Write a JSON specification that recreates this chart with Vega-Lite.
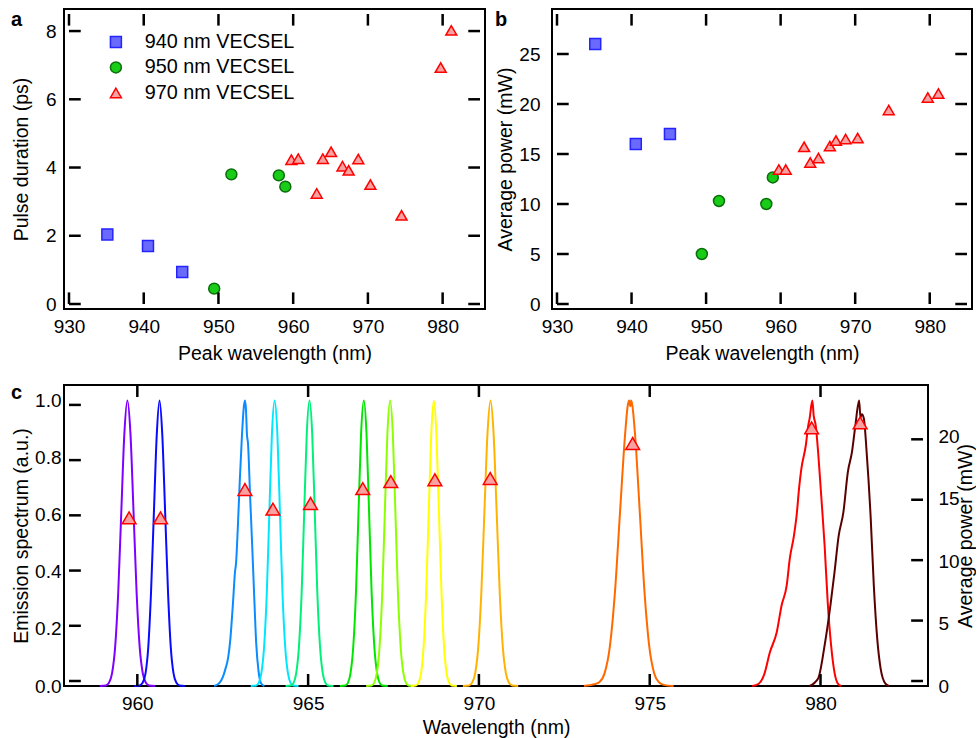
{
 "$schema": "https://vega.github.io/schema/vega-lite/v6.json",
 "background": "white",
 "padding": {"left": 10, "top": 8, "right": 0, "bottom": 0},
 "config": {
  "font": "Liberation Sans",
  "view": {"stroke": "black", "strokeWidth": 2},
  "axis": {"domain": false, "ticks": false, "grid": false, "labelFlush": false, "labelPadding": 8,
   "labelFont": "Liberation Sans", "labelFontSize": 19, "labelColor": "black",
   "titleFont": "Liberation Sans", "titleFontSize": 19.5, "titleFontWeight": "normal", "titleColor": "black", "titlePadding": 8},
  "title": {"fontSize": 20, "fontWeight": "bold", "anchor": "start", "frame": "bounds", "color": "black", "font": "Liberation Sans"}
 },
 "datasets": {
  "pulses": [
   {"laser": "940 nm VECSEL", "wl": 935.13, "tau": 2.04, "p": 26.0},
   {"laser": "940 nm VECSEL", "wl": 940.57, "tau": 1.70, "p": 16.0},
   {"laser": "940 nm VECSEL", "wl": 945.15, "tau": 0.94, "p": 17.0},
   {"laser": "950 nm VECSEL", "wl": 949.43, "tau": 0.45, "p": 5.0},
   {"laser": "950 nm VECSEL", "wl": 951.73, "tau": 3.80, "p": 10.3},
   {"laser": "950 nm VECSEL", "wl": 958.08, "tau": 3.77, "p": 10.0},
   {"laser": "950 nm VECSEL", "wl": 958.95, "tau": 3.44, "p": 12.66},
   {"laser": "970 nm VECSEL", "wl": 959.76, "tau": 4.23, "p": 13.45},
   {"laser": "970 nm VECSEL", "wl": 960.68, "tau": 4.26, "p": 13.45},
   {"laser": "970 nm VECSEL", "wl": 963.15, "tau": 3.24, "p": 15.72},
   {"laser": "970 nm VECSEL", "wl": 963.97, "tau": 4.26, "p": 14.15},
   {"laser": "970 nm VECSEL", "wl": 965.07, "tau": 4.46, "p": 14.6},
   {"laser": "970 nm VECSEL", "wl": 966.60, "tau": 4.04, "p": 15.79},
   {"laser": "970 nm VECSEL", "wl": 967.42, "tau": 3.92, "p": 16.35},
   {"laser": "970 nm VECSEL", "wl": 968.71, "tau": 4.25, "p": 16.5},
   {"laser": "970 nm VECSEL", "wl": 970.33, "tau": 3.50, "p": 16.6},
   {"laser": "970 nm VECSEL", "wl": 974.50, "tau": 2.60, "p": 19.4},
   {"laser": "970 nm VECSEL", "wl": 979.74, "tau": 6.93, "p": 20.65},
   {"laser": "970 nm VECSEL", "wl": 981.16, "tau": 8.02, "p": 21.05}
  ],
  "xticksAB": [{"wl": 930}, {"wl": 940}, {"wl": 950}, {"wl": 960}, {"wl": 970}, {"wl": 980}],
  "yticksA": [{"tau": 0}, {"tau": 2}, {"tau": 4}, {"tau": 6}, {"tau": 8}],
  "yticksB": [{"p": 0}, {"p": 5}, {"p": 10}, {"p": 15}, {"p": 20}, {"p": 25}],
  "xticksC": [{"wl": 960}, {"wl": 965}, {"wl": 970}, {"wl": 975}, {"wl": 980}],
  "yticksCl": [{"v": 0}, {"v": 0.2}, {"v": 0.4}, {"v": 0.6}, {"v": 0.8}, {"v": 1.0}],
  "yticksCr": [{"p": 0}, {"p": 5}, {"p": 10}, {"p": 15}, {"p": 20}],
  "spectra": [
   {"id": "s01", "wl": 958.90, "v": 0}, {"id": "s01", "wl": 959.08, "v": 0.002}, {"id": "s01", "wl": 959.17, "v": 0.011}, {"id": "s01", "wl": 959.26, "v": 0.044}, {"id": "s01", "wl": 959.35, "v": 0.135}, {"id": "s01", "wl": 959.44, "v": 0.325}, {"id": "s01", "wl": 959.53, "v": 0.607}, {"id": "s01", "wl": 959.62, "v": 0.882}, {"id": "s01", "wl": 959.71, "v": 1.0}, {"id": "s01", "wl": 959.80, "v": 0.882}, {"id": "s01", "wl": 959.89, "v": 0.607}, {"id": "s01", "wl": 959.98, "v": 0.325}, {"id": "s01", "wl": 960.07, "v": 0.135}, {"id": "s01", "wl": 960.16, "v": 0.044}, {"id": "s01", "wl": 960.25, "v": 0.011}, {"id": "s01", "wl": 960.34, "v": 0.002}, {"id": "s01", "wl": 960.52, "v": 0},
   {"id": "s02", "wl": 959.91, "v": 0}, {"id": "s02", "wl": 960.07, "v": 0.002}, {"id": "s02", "wl": 960.155, "v": 0.011}, {"id": "s02", "wl": 960.24, "v": 0.044}, {"id": "s02", "wl": 960.32, "v": 0.135}, {"id": "s02", "wl": 960.40, "v": 0.325}, {"id": "s02", "wl": 960.485, "v": 0.607}, {"id": "s02", "wl": 960.57, "v": 0.882}, {"id": "s02", "wl": 960.65, "v": 1.0}, {"id": "s02", "wl": 960.73, "v": 0.882}, {"id": "s02", "wl": 960.815, "v": 0.607}, {"id": "s02", "wl": 960.90, "v": 0.325}, {"id": "s02", "wl": 960.98, "v": 0.135}, {"id": "s02", "wl": 961.06, "v": 0.044}, {"id": "s02", "wl": 961.145, "v": 0.011}, {"id": "s02", "wl": 961.23, "v": 0.002}, {"id": "s02", "wl": 961.39, "v": 0},
   {"id": "s03", "wl": 962.25, "v": 0}, {"id": "s03", "wl": 962.40, "v": 0.01}, {"id": "s03", "wl": 962.50, "v": 0.03}, {"id": "s03", "wl": 962.58, "v": 0.06}, {"id": "s03", "wl": 962.66, "v": 0.10}, {"id": "s03", "wl": 962.72, "v": 0.16}, {"id": "s03", "wl": 962.80, "v": 0.29}, {"id": "s03", "wl": 962.86, "v": 0.40}, {"id": "s03", "wl": 962.89, "v": 0.43}, {"id": "s03", "wl": 962.94, "v": 0.55}, {"id": "s03", "wl": 963.00, "v": 0.72}, {"id": "s03", "wl": 963.06, "v": 0.87}, {"id": "s03", "wl": 963.12, "v": 0.98}, {"id": "s03", "wl": 963.15, "v": 1.0}, {"id": "s03", "wl": 963.18, "v": 0.97}, {"id": "s03", "wl": 963.21, "v": 0.88}, {"id": "s03", "wl": 963.24, "v": 0.85}, {"id": "s03", "wl": 963.30, "v": 0.67}, {"id": "s03", "wl": 963.36, "v": 0.50}, {"id": "s03", "wl": 963.42, "v": 0.32}, {"id": "s03", "wl": 963.48, "v": 0.15}, {"id": "s03", "wl": 963.55, "v": 0.05}, {"id": "s03", "wl": 963.62, "v": 0.01}, {"id": "s03", "wl": 963.72, "v": 0},
   {"id": "s04", "wl": 963.32, "v": 0}, {"id": "s04", "wl": 963.48, "v": 0.002}, {"id": "s04", "wl": 963.555, "v": 0.011}, {"id": "s04", "wl": 963.63, "v": 0.044}, {"id": "s04", "wl": 963.71, "v": 0.135}, {"id": "s04", "wl": 963.79, "v": 0.325}, {"id": "s04", "wl": 963.865, "v": 0.607}, {"id": "s04", "wl": 963.94, "v": 0.882}, {"id": "s04", "wl": 964.02, "v": 1.0}, {"id": "s04", "wl": 964.10, "v": 0.882}, {"id": "s04", "wl": 964.175, "v": 0.607}, {"id": "s04", "wl": 964.25, "v": 0.325}, {"id": "s04", "wl": 964.33, "v": 0.135}, {"id": "s04", "wl": 964.41, "v": 0.044}, {"id": "s04", "wl": 964.485, "v": 0.011}, {"id": "s04", "wl": 964.56, "v": 0.002}, {"id": "s04", "wl": 964.72, "v": 0},
   {"id": "s05", "wl": 964.34, "v": 0}, {"id": "s05", "wl": 964.50, "v": 0.002}, {"id": "s05", "wl": 964.575, "v": 0.011}, {"id": "s05", "wl": 964.65, "v": 0.044}, {"id": "s05", "wl": 964.73, "v": 0.135}, {"id": "s05", "wl": 964.81, "v": 0.325}, {"id": "s05", "wl": 964.885, "v": 0.607}, {"id": "s05", "wl": 964.96, "v": 0.882}, {"id": "s05", "wl": 965.04, "v": 1.0}, {"id": "s05", "wl": 965.12, "v": 0.882}, {"id": "s05", "wl": 965.195, "v": 0.607}, {"id": "s05", "wl": 965.27, "v": 0.325}, {"id": "s05", "wl": 965.35, "v": 0.135}, {"id": "s05", "wl": 965.43, "v": 0.044}, {"id": "s05", "wl": 965.505, "v": 0.011}, {"id": "s05", "wl": 965.58, "v": 0.002}, {"id": "s05", "wl": 965.74, "v": 0},
   {"id": "s06", "wl": 965.93, "v": 0}, {"id": "s06", "wl": 966.09, "v": 0.002}, {"id": "s06", "wl": 966.165, "v": 0.011}, {"id": "s06", "wl": 966.24, "v": 0.044}, {"id": "s06", "wl": 966.32, "v": 0.135}, {"id": "s06", "wl": 966.40, "v": 0.325}, {"id": "s06", "wl": 966.475, "v": 0.607}, {"id": "s06", "wl": 966.55, "v": 0.882}, {"id": "s06", "wl": 966.63, "v": 1.0}, {"id": "s06", "wl": 966.71, "v": 0.882}, {"id": "s06", "wl": 966.785, "v": 0.607}, {"id": "s06", "wl": 966.86, "v": 0.325}, {"id": "s06", "wl": 966.94, "v": 0.135}, {"id": "s06", "wl": 967.02, "v": 0.044}, {"id": "s06", "wl": 967.095, "v": 0.011}, {"id": "s06", "wl": 967.17, "v": 0.002}, {"id": "s06", "wl": 967.33, "v": 0},
   {"id": "s07", "wl": 966.70, "v": 0}, {"id": "s07", "wl": 966.86, "v": 0.002}, {"id": "s07", "wl": 966.935, "v": 0.011}, {"id": "s07", "wl": 967.01, "v": 0.044}, {"id": "s07", "wl": 967.09, "v": 0.135}, {"id": "s07", "wl": 967.17, "v": 0.325}, {"id": "s07", "wl": 967.245, "v": 0.607}, {"id": "s07", "wl": 967.32, "v": 0.882}, {"id": "s07", "wl": 967.40, "v": 1.0}, {"id": "s07", "wl": 967.48, "v": 0.882}, {"id": "s07", "wl": 967.555, "v": 0.607}, {"id": "s07", "wl": 967.63, "v": 0.325}, {"id": "s07", "wl": 967.71, "v": 0.135}, {"id": "s07", "wl": 967.79, "v": 0.044}, {"id": "s07", "wl": 967.865, "v": 0.011}, {"id": "s07", "wl": 967.94, "v": 0.002}, {"id": "s07", "wl": 968.10, "v": 0},
   {"id": "s08", "wl": 968.005, "v": 0}, {"id": "s08", "wl": 968.155, "v": 0.002}, {"id": "s08", "wl": 968.23, "v": 0.011}, {"id": "s08", "wl": 968.305, "v": 0.044}, {"id": "s08", "wl": 968.38, "v": 0.135}, {"id": "s08", "wl": 968.455, "v": 0.325}, {"id": "s08", "wl": 968.53, "v": 0.607}, {"id": "s08", "wl": 968.605, "v": 0.882}, {"id": "s08", "wl": 968.68, "v": 1.0}, {"id": "s08", "wl": 968.755, "v": 0.882}, {"id": "s08", "wl": 968.83, "v": 0.607}, {"id": "s08", "wl": 968.905, "v": 0.325}, {"id": "s08", "wl": 968.98, "v": 0.135}, {"id": "s08", "wl": 969.055, "v": 0.044}, {"id": "s08", "wl": 969.13, "v": 0.011}, {"id": "s08", "wl": 969.205, "v": 0.002}, {"id": "s08", "wl": 969.355, "v": 0},
   {"id": "s09", "wl": 969.53, "v": 0}, {"id": "s09", "wl": 969.71, "v": 0.002}, {"id": "s09", "wl": 969.80, "v": 0.011}, {"id": "s09", "wl": 969.89, "v": 0.044}, {"id": "s09", "wl": 969.98, "v": 0.135}, {"id": "s09", "wl": 970.07, "v": 0.325}, {"id": "s09", "wl": 970.16, "v": 0.607}, {"id": "s09", "wl": 970.25, "v": 0.882}, {"id": "s09", "wl": 970.34, "v": 1.0}, {"id": "s09", "wl": 970.43, "v": 0.882}, {"id": "s09", "wl": 970.52, "v": 0.607}, {"id": "s09", "wl": 970.61, "v": 0.325}, {"id": "s09", "wl": 970.70, "v": 0.135}, {"id": "s09", "wl": 970.79, "v": 0.044}, {"id": "s09", "wl": 970.88, "v": 0.011}, {"id": "s09", "wl": 970.97, "v": 0.002}, {"id": "s09", "wl": 971.15, "v": 0},
   {"id": "s10", "wl": 973.08, "v": 0}, {"id": "s10", "wl": 973.23, "v": 0.003}, {"id": "s10", "wl": 973.38, "v": 0.006}, {"id": "s10", "wl": 973.53, "v": 0.014}, {"id": "s10", "wl": 973.68, "v": 0.045}, {"id": "s10", "wl": 973.83, "v": 0.135}, {"id": "s10", "wl": 973.98, "v": 0.325}, {"id": "s10", "wl": 974.13, "v": 0.607}, {"id": "s10", "wl": 974.28, "v": 0.882}, {"id": "s10", "wl": 974.36, "v": 0.985}, {"id": "s10", "wl": 974.40, "v": 1.0}, {"id": "s10", "wl": 974.43, "v": 0.98}, {"id": "s10", "wl": 974.46, "v": 1.0}, {"id": "s10", "wl": 974.50, "v": 0.975}, {"id": "s10", "wl": 974.57, "v": 0.882}, {"id": "s10", "wl": 974.71, "v": 0.607}, {"id": "s10", "wl": 974.85, "v": 0.325}, {"id": "s10", "wl": 974.99, "v": 0.135}, {"id": "s10", "wl": 975.13, "v": 0.045}, {"id": "s10", "wl": 975.27, "v": 0.013}, {"id": "s10", "wl": 975.41, "v": 0.004}, {"id": "s10", "wl": 975.70, "v": 0},
   {"id": "s11", "wl": 978.00, "v": 0}, {"id": "s11", "wl": 978.19, "v": 0.008}, {"id": "s11", "wl": 978.35, "v": 0.04}, {"id": "s11", "wl": 978.52, "v": 0.119}, {"id": "s11", "wl": 978.72, "v": 0.189}, {"id": "s11", "wl": 978.86, "v": 0.282}, {"id": "s11", "wl": 979.01, "v": 0.352}, {"id": "s11", "wl": 979.10, "v": 0.446}, {"id": "s11", "wl": 979.22, "v": 0.525}, {"id": "s11", "wl": 979.30, "v": 0.597}, {"id": "s11", "wl": 979.38, "v": 0.702}, {"id": "s11", "wl": 979.44, "v": 0.761}, {"id": "s11", "wl": 979.57, "v": 0.843}, {"id": "s11", "wl": 979.64, "v": 0.912}, {"id": "s11", "wl": 979.68, "v": 0.936}, {"id": "s11", "wl": 979.76, "v": 1.0}, {"id": "s11", "wl": 979.80, "v": 0.947}, {"id": "s11", "wl": 979.86, "v": 0.912}, {"id": "s11", "wl": 979.93, "v": 0.819}, {"id": "s11", "wl": 980.02, "v": 0.667}, {"id": "s11", "wl": 980.12, "v": 0.492}, {"id": "s11", "wl": 980.21, "v": 0.294}, {"id": "s11", "wl": 980.31, "v": 0.142}, {"id": "s11", "wl": 980.41, "v": 0.047}, {"id": "s11", "wl": 980.50, "v": 0.01}, {"id": "s11", "wl": 980.60, "v": 0},
   {"id": "s12", "wl": 979.68, "v": 0}, {"id": "s12", "wl": 979.93, "v": 0.026}, {"id": "s12", "wl": 980.12, "v": 0.142}, {"id": "s12", "wl": 980.29, "v": 0.282}, {"id": "s12", "wl": 980.41, "v": 0.399}, {"id": "s12", "wl": 980.53, "v": 0.525}, {"id": "s12", "wl": 980.67, "v": 0.609}, {"id": "s12", "wl": 980.80, "v": 0.749}, {"id": "s12", "wl": 980.92, "v": 0.819}, {"id": "s12", "wl": 981.02, "v": 0.912}, {"id": "s12", "wl": 981.13, "v": 1.0}, {"id": "s12", "wl": 981.17, "v": 0.94}, {"id": "s12", "wl": 981.21, "v": 0.952}, {"id": "s12", "wl": 981.27, "v": 0.936}, {"id": "s12", "wl": 981.35, "v": 0.819}, {"id": "s12", "wl": 981.47, "v": 0.586}, {"id": "s12", "wl": 981.56, "v": 0.352}, {"id": "s12", "wl": 981.66, "v": 0.166}, {"id": "s12", "wl": 981.76, "v": 0.061}, {"id": "s12", "wl": 981.90, "v": 0.008}, {"id": "s12", "wl": 982.00, "v": 0}
  ]
 },
 "spacing": 18,
 "resolve": {"scale": {"color": "independent", "fill": "independent", "stroke": "independent", "shape": "independent", "size": "independent"}},
 "vconcat": [
  {
   "hconcat": [
    {
     "width": 421, "height": 300,
     "title": {"text": "a", "dy": 25},
     "layer": [
      {
       "data": {"name": "pulses"},
       "mark": {"type": "point", "filled": true, "strokeWidth": 1.5, "opacity": 1},
       "encoding": {
        "x": {"field": "wl", "type": "quantitative", "scale": {"domain": [930, 985], "nice": false}, "axis": {"values": [930, 940, 950, 960, 970, 980], "title": "Peak wavelength (nm)"}},
        "y": {"field": "tau", "type": "quantitative", "scale": {"domain": [0, 8.5], "nice": false}, "axis": {"values": [0, 2, 4, 6, 8], "title": "Pulse duration (ps)", "titleX": -33, "labelPadding": 8}},
        "shape": {"field": "laser", "type": "nominal", "scale": {"domain": ["940 nm VECSEL", "950 nm VECSEL", "970 nm VECSEL"], "range": ["square", "circle", "triangle-up"]},
         "legend": {"title": null, "orient": "none", "legendX": 42, "legendY": 23, "padding": 0, "labelFont": "Liberation Sans", "labelFontSize": 19.8, "labelColor": "black", "labelOffset": 19, "rowPadding": 4.5, "symbolStrokeWidth": 1.5}},
        "size": {"field": "laser", "type": "nominal", "scale": {"domain": ["940 nm VECSEL", "950 nm VECSEL", "970 nm VECSEL"], "range": [120, 120, 190]},
         "legend": {"title": null, "orient": "none", "legendX": 42, "legendY": 23, "padding": 0, "labelFont": "Liberation Sans", "labelFontSize": 19.8, "labelColor": "black", "labelOffset": 19, "rowPadding": 4.5, "symbolStrokeWidth": 1.5}},
        "fill": {"field": "laser", "type": "nominal", "scale": {"domain": ["940 nm VECSEL", "950 nm VECSEL", "970 nm VECSEL"], "range": ["#6a6aff", "#18cc18", "#f7a1a1"]},
         "legend": {"title": null, "orient": "none", "legendX": 42, "legendY": 23, "padding": 0, "labelFont": "Liberation Sans", "labelFontSize": 19.8, "labelColor": "black", "labelOffset": 19, "rowPadding": 4.5, "symbolStrokeWidth": 1.5}},
        "stroke": {"field": "laser", "type": "nominal", "scale": {"domain": ["940 nm VECSEL", "950 nm VECSEL", "970 nm VECSEL"], "range": ["#2424ff", "#0b6e0b", "#ff0000"]},
         "legend": {"title": null, "orient": "none", "legendX": 42, "legendY": 23, "padding": 0, "labelFont": "Liberation Sans", "labelFontSize": 19.8, "labelColor": "black", "labelOffset": 19, "rowPadding": 4.5, "symbolStrokeWidth": 1.5}}
       }
      },
      {"data": {"name": "xticksAB"}, "mark": {"type": "bar", "orient": "vertical", "size": 2.5, "color": "black"},
       "encoding": {"x": {"field": "wl", "type": "quantitative"}, "y": {"datum": 0}, "y2": {"datum": 0.34}}},
      {"data": {"name": "xticksAB"}, "mark": {"type": "bar", "orient": "vertical", "size": 2.5, "color": "black"},
       "encoding": {"x": {"field": "wl", "type": "quantitative"}, "y": {"datum": 8.16}, "y2": {"datum": 8.5}}},
      {"data": {"name": "yticksA"}, "mark": {"type": "bar", "orient": "horizontal", "size": 2.5, "color": "black"},
       "encoding": {"y": {"field": "tau", "type": "quantitative"}, "x": {"datum": 930}, "x2": {"datum": 931.57}}},
      {"data": {"name": "yticksA"}, "mark": {"type": "bar", "orient": "horizontal", "size": 2.5, "color": "black"},
       "encoding": {"y": {"field": "tau", "type": "quantitative"}, "x": {"datum": 983.43}, "x2": {"datum": 985}}}
     ]
    },
    {
     "width": 420, "height": 300,
     "title": {"text": "b", "dy": 25},
     "layer": [
      {
       "data": {"name": "pulses"},
       "mark": {"type": "point", "filled": true, "strokeWidth": 1.5, "opacity": 1},
       "encoding": {
        "x": {"field": "wl", "type": "quantitative", "scale": {"domain": [930, 985], "nice": false}, "axis": {"values": [930, 940, 950, 960, 970, 980], "title": "Peak wavelength (nm)"}},
        "y": {"field": "p", "type": "quantitative", "scale": {"domain": [0, 29], "nice": false}, "axis": {"values": [0, 5, 10, 15, 20, 25], "title": "Average power (mW)", "titleX": -37, "labelPadding": 12}},
        "shape": {"field": "laser", "type": "nominal", "scale": {"domain": ["940 nm VECSEL", "950 nm VECSEL", "970 nm VECSEL"], "range": ["square", "circle", "triangle-up"]}, "legend": null},
        "size": {"field": "laser", "type": "nominal", "scale": {"domain": ["940 nm VECSEL", "950 nm VECSEL", "970 nm VECSEL"], "range": [120, 120, 190]}, "legend": null},
        "fill": {"field": "laser", "type": "nominal", "scale": {"domain": ["940 nm VECSEL", "950 nm VECSEL", "970 nm VECSEL"], "range": ["#6a6aff", "#18cc18", "#f7a1a1"]}, "legend": null},
        "stroke": {"field": "laser", "type": "nominal", "scale": {"domain": ["940 nm VECSEL", "950 nm VECSEL", "970 nm VECSEL"], "range": ["#2424ff", "#0b6e0b", "#ff0000"]}, "legend": null}
       }
      },
      {"data": {"name": "xticksAB"}, "mark": {"type": "bar", "orient": "vertical", "size": 2.5, "color": "black"},
       "encoding": {"x": {"field": "wl", "type": "quantitative"}, "y": {"datum": 0}, "y2": {"datum": 1.16}}},
      {"data": {"name": "xticksAB"}, "mark": {"type": "bar", "orient": "vertical", "size": 2.5, "color": "black"},
       "encoding": {"x": {"field": "wl", "type": "quantitative"}, "y": {"datum": 27.84}, "y2": {"datum": 29}}},
      {"data": {"name": "yticksB"}, "mark": {"type": "bar", "orient": "horizontal", "size": 2.5, "color": "black"},
       "encoding": {"y": {"field": "p", "type": "quantitative"}, "x": {"datum": 930}, "x2": {"datum": 931.57}}},
      {"data": {"name": "yticksB"}, "mark": {"type": "bar", "orient": "horizontal", "size": 2.5, "color": "black"},
       "encoding": {"y": {"field": "p", "type": "quantitative"}, "x": {"datum": 983.43}, "x2": {"datum": 985}}}
     ]
    }
   ],
   "spacing": 67,
   "bounds": "flush",
   "resolve": {"scale": {"fill": "independent", "stroke": "independent", "shape": "independent", "size": "independent"}}
  },
  {
   "width": 864, "height": 301,
   "title": {"text": "c", "dy": 22},
   "layer": [
    {
     "data": {"name": "spectra"},
     "mark": {"type": "line", "strokeWidth": 2, "interpolate": "monotone"},
     "encoding": {
      "x": {"field": "wl", "type": "quantitative", "scale": {"domain": [958, 983], "nice": false}, "axis": {"values": [960, 965, 970, 975, 980], "title": "Wavelength (nm)", "titlePadding": 5}},
      "y": {"field": "v", "type": "quantitative", "scale": {"domain": [0, 1.054], "nice": false}, "axis": {"values": [0, 0.2, 0.4, 0.6, 0.8, 1.0], "format": ".1f", "title": "Emission spectrum (a.u.)", "titleX": -33, "labelPadding": 3}},
      "color": {"field": "id", "type": "nominal", "scale": {"domain": ["s01", "s02", "s03", "s04", "s05", "s06", "s07", "s08", "s09", "s10", "s11", "s12"], "range": ["#8000ff", "#0a0aff", "#0a8cff", "#00e6ff", "#00f07a", "#00e600", "#8cff00", "#ffff00", "#ffb300", "#ff6a00", "#ff0000", "#5a0000"]}, "legend": null}
     }
    },
    {
     "data": {"name": "pulses"},
     "transform": [{"filter": "datum.laser == '970 nm VECSEL'"}],
     "mark": {"type": "point", "shape": "triangle-up", "filled": true, "fill": "#f7a1a1", "stroke": "#ff0000", "strokeWidth": 1.5, "size": 190, "opacity": 1},
     "encoding": {
      "x": {"field": "wl", "type": "quantitative"},
      "y": {"field": "p", "type": "quantitative", "scale": {"domain": [0, 24.08], "nice": false}, "axis": {"orient": "right", "values": [0, 5, 10, 15, 20], "title": "Average power (mW)", "titleAngle": -90, "titleBaseline": "top", "labelPadding": 10, "titleX": 28}}
     }
    },
    {"data": {"name": "xticksC"}, "mark": {"type": "bar", "orient": "vertical", "size": 2.5, "color": "black"},
     "encoding": {"x": {"field": "wl", "type": "quantitative"}, "y": {"datum": 0, "scale": {"domain": [0, 1.054], "nice": false}, "axis": null}, "y2": {"datum": 0.042}}},
    {"data": {"name": "xticksC"}, "mark": {"type": "bar", "orient": "vertical", "size": 2.5, "color": "black"},
     "encoding": {"x": {"field": "wl", "type": "quantitative"}, "y": {"datum": 1.012, "scale": {"domain": [0, 1.054], "nice": false}, "axis": null}, "y2": {"datum": 1.054}}},
    {"data": {"name": "yticksCl"}, "mark": {"type": "bar", "orient": "horizontal", "size": 2.5, "color": "black"},
     "encoding": {"y": {"field": "v", "type": "quantitative", "scale": {"domain": [0, 1.054], "nice": false}, "axis": null}, "x": {"datum": 958}, "x2": {"datum": 958.347}}},
    {"data": {"name": "yticksCr"}, "mark": {"type": "bar", "orient": "horizontal", "size": 2.5, "color": "black"},
     "encoding": {"y": {"field": "p", "type": "quantitative", "scale": {"domain": [0, 24.08], "nice": false}, "axis": null}, "x": {"datum": 982.653}, "x2": {"datum": 983}}}
   ],
   "resolve": {"scale": {"y": "independent"}, "axis": {"y": "independent"}}
  }
 ]
}
